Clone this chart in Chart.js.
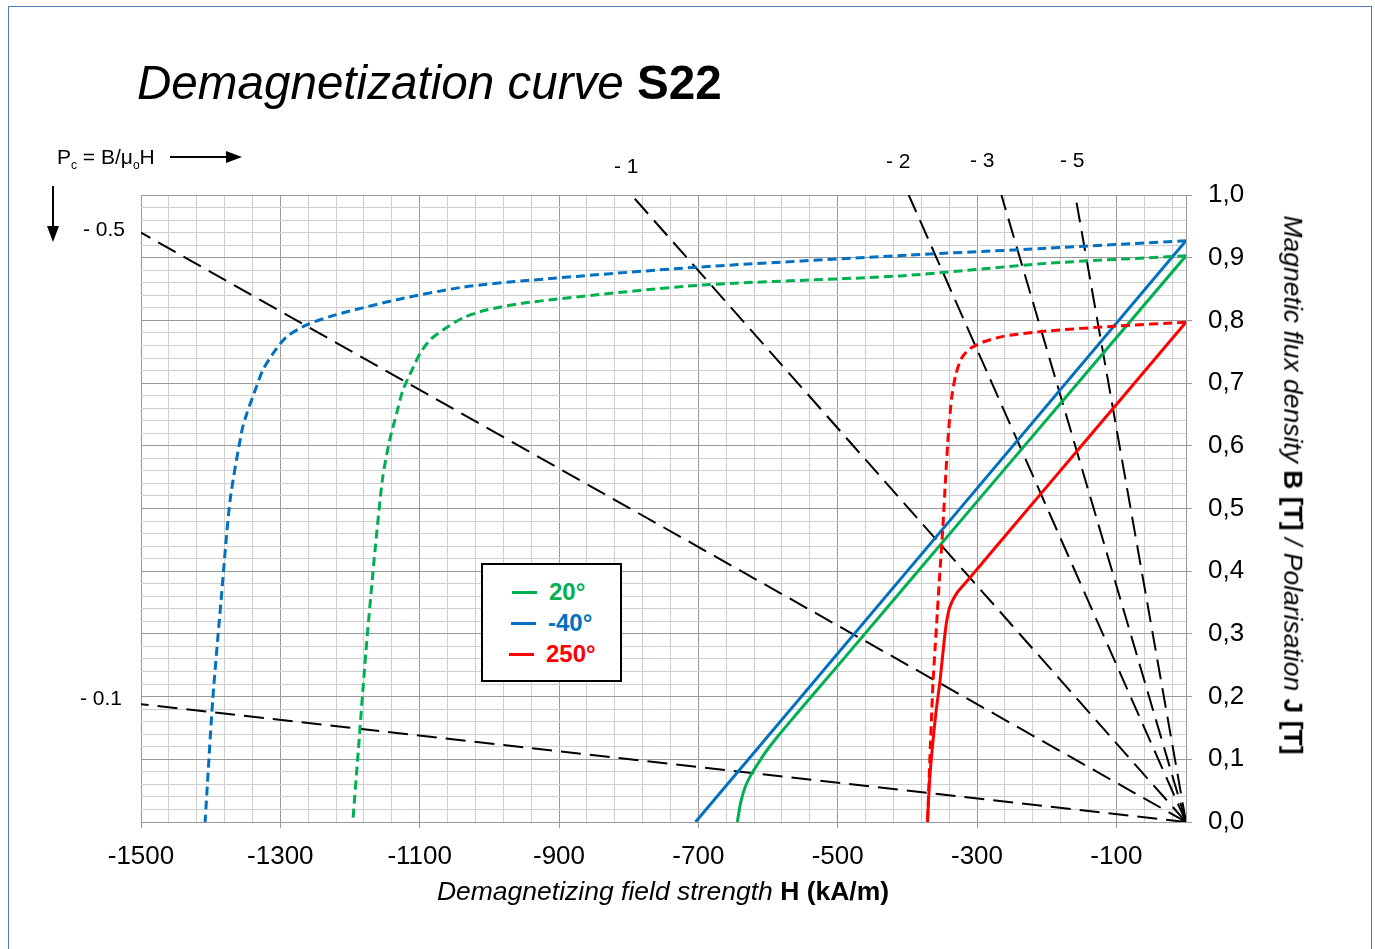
<!DOCTYPE html>
<html>
<head>
<meta charset="utf-8">
<script src="https://cdn.jsdelivr.net/npm/chart.js@4.4.1/dist/chart.umd.min.js"></script>
<style>
  html, body { margin:0; padding:0; background:#fff; }
  body { width:1375px; height:949px; position:relative; overflow:hidden; font-family: Arial, "Liberation Sans", sans-serif; }
  #frame { position:absolute; left:8px; top:6px; width:1364px; height:950px; border:1.5px solid #4a7ebb; box-sizing:border-box; }
  #wrap { position:absolute; left:0; top:0; width:1375px; height:949px; }
  .t { position:absolute; white-space:nowrap; line-height:1; color:#000; }
  .s { font-size:21px; }
  #legend { position:absolute; left:481px; top:563px; width:141px; height:119px; box-sizing:border-box; border:2px solid #000; background:#fff; }
  .li { position:absolute; height:24px; line-height:24px; font-weight:bold; font-size:24px; }
  .li i { display:inline-block; width:25px; height:3px; vertical-align:middle; margin-right:12px; position:relative; top:-1px; }
</style>
</head>
<body>
<div id="frame"></div>
<div id="wrap"><canvas id="c" width="1375" height="949"></canvas></div>

<div class="t" style="left:137px; top:59px; font-size:47.6px;"><span style="font-style:italic;">Demagnetization curve </span><b>S22</b></div>
<div class="t" style="left:57px; top:146px; font-size:21px;">P<sub style="font-size:12px;">c</sub> = B/μ<sub style="font-size:12px;">o</sub>H</div>
<svg style="position:absolute;left:0;top:0;" width="300" height="260">
  <line x1="170" y1="157" x2="228" y2="157" stroke="#000" stroke-width="2"/>
  <polygon points="242,157 226,151 226,163" fill="#000"/>
  <line x1="53" y1="186" x2="53" y2="228" stroke="#000" stroke-width="2"/>
  <polygon points="53,242 47,226 59,226" fill="#000"/>
</svg>
<div class="t s" style="left:83px; top:218px;">- 0.5</div>
<div class="t s" style="left:80px; top:687px;">- 0.1</div>
<div class="t s" style="left:614px; top:155px;">- 1</div>
<div class="t s" style="left:886px; top:150px;">- 2</div>
<div class="t s" style="left:970px; top:149px;">- 3</div>
<div class="t s" style="left:1060px; top:149px;">- 5</div>

<div class="t" id="xt" style="left:663px; top:891px; font-size:26.5px; transform:translate(-50%,-50%);"><span style="font-style:italic;">Demagnetizing field strength </span><b>H (kA/m)</b></div>
<div class="t" id="yt" style="left:1293px; top:485px; font-size:26.5px; transform:translate(-50%,-50%) rotate(90deg);"><span style="font-style:italic;">Magnetic flux density </span><b>B [T]</b><span style="font-style:italic;"> / Polarisation </span><b>J [T]</b></div>

<div id="legend"></div>

<script>
// ---- data (H in kA/m, B/J in T) ----
const seriesNames = ['20°', '-40°', '250°'];
const seriesColors = ['#00B050', '#0070C0', '#FF0000'];

const b20 = [[0,0.903],[-300,0.511],[-500,0.249],[-560,0.171],[-585,0.138],[-595,0.124],[-605,0.109],[-615,0.092],[-625,0.074],[-633,0.055],[-639,0.032],[-644,0]];
const j20 = [[0,0.903],[-200,0.891],[-410,0.871],[-700,0.856],[-942,0.829],[-1003,0.817],[-1038,0.804],[-1066,0.785],[-1085,0.769],[-1099,0.748],[-1111,0.721],[-1124,0.689],[-1133,0.652],[-1143,0.609],[-1153,0.55],[-1164,0.434],[-1177,0.274],[-1188,0.115],[-1196,0]];

const bM40 = [[0,0.927],[-704,0]];
const jM40 = [[0,0.927],[-200,0.915],[-400,0.904],[-700,0.885],[-942,0.864],[-1038,0.853],[-1133,0.833],[-1200,0.815],[-1229,0.806],[-1262,0.793],[-1291,0.774],[-1310,0.748],[-1325,0.721],[-1336,0.689],[-1348,0.652],[-1355,0.625],[-1372,0.514],[-1385,0.354],[-1397,0.195],[-1408,0]];

const b250 = [[0,0.797],[-150,0.600],[-250,0.469],[-313,0.386],[-329,0.365],[-339,0.343],[-344,0.317],[-348,0.28],[-353,0.226],[-359,0.174],[-364,0.12],[-368,0.067],[-371,0]];
const j250 = [[0,0.797],[-100,0.791],[-200,0.783],[-260,0.775],[-290,0.766],[-310,0.755],[-322,0.74],[-330,0.715],[-336,0.68],[-341,0.62],[-345,0.55],[-349,0.47],[-354,0.386],[-357,0.333],[-360,0.28],[-363,0.226],[-365,0.174],[-367,0.12],[-369,0.06],[-371,0]];

// load lines (permeance coefficient), endpoints
const pcM01 = [[0,0],[-1500,0.188]];
const pcM05 = [[0,0],[-1500,0.94]];
const pcM1  = [[0,0],[-796,1.0]];
const pcM2  = [[0,0],[-398,1.0]];
const pcM3  = [[0,0],[-265,1.0]];
const pcM5  = [[0,0],[-159,1.0]];

const xTickLabels = [-1500,-1300,-1100,-900,-700,-500,-300,-100];
const yTickValues = [0,0.1,0.2,0.3,0.4,0.5,0.6,0.7,0.8,0.9,1.0];
const yTickLabels = ['0,0','0,1','0,2','0,3','0,4','0,5','0,6','0,7','0,8','0,9','1,0'];

// ---- build ----
const pts = a => a.map(p => ({x:p[0], y:p[1]}));
const curve = (data, color, dashed) => ({
  data: pts(data), borderColor: color, borderWidth: 3, showLine: true, pointRadius: 0,
  tension: 0.25, borderDash: dashed ? [9,5] : [], fill: false
});
const loadLine = data => ({
  data: pts(data), borderColor: '#000', borderWidth: 2, showLine: true, pointRadius: 0,
  tension: 0, borderDash: [20,9], fill: false
});

const datasets = [
  curve(b250, seriesColors[2], false),
  curve(j250, seriesColors[2], true),
  curve(b20, seriesColors[0], false),
  curve(j20, seriesColors[0], true),
  curve(bM40, seriesColors[1], false),
  curve(jM40, seriesColors[1], true),
  loadLine(pcM01), loadLine(pcM05), loadLine(pcM1), loadLine(pcM2), loadLine(pcM3), loadLine(pcM5)
];

// grid positions (x every 40 from -1500, y every 0.02)
const xGrid = [];
for (let v = -1500; v < 0; v += 40) xGrid.push(v);
xGrid.push(0);
const yGrid = [];
for (let i = 0; i <= 50; i++) yGrid.push(Math.round(i*2)/100);

const isXMajor = v => xTickLabels.includes(v);
const yIdx = v => yTickValues.findIndex(t => Math.abs(t - v) < 1e-6);

new Chart(document.getElementById('c'), {
  type: 'scatter',
  data: { datasets },
  options: {
    responsive: false, animation: false, devicePixelRatio: 1,
    layout: { padding: { left: 141, top: 195, right: 0, bottom: 0 } },
    plugins: { legend: { display: false }, tooltip: { enabled: false } },
    scales: {
      x: {
        type: 'linear', position: 'bottom', min: -1500, max: 0,
        afterBuildTicks: s => { s.ticks = xGrid.map(v => ({ value: v })); },
        afterFit: s => { s.height = 127; },
        ticks: {
          autoSkip: false, maxRotation: 0, padding: 13, color: '#000',
          font: { family: 'Arial, "Liberation Sans", sans-serif', size: 26 },
          callback: v => isXMajor(v) ? String(v) : ''
        },
        grid: {
          color: c => (c.tick && isXMajor(c.tick.value)) ? '#9a9a9a' : '#cfcfcf',
          tickColor: c => (c.tick && isXMajor(c.tick.value)) ? '#9a9a9a' : 'rgba(0,0,0,0)',
          tickLength: 6, lineWidth: 1
        },
        border: { color: '#9a9a9a', width: 1 }
      },
      y: {
        type: 'linear', position: 'right', min: 0, max: 1,
        afterBuildTicks: s => { s.ticks = yGrid.map(v => ({ value: v })); },
        afterFit: s => { s.width = 189; },
        ticks: {
          autoSkip: false, padding: 16, color: '#000',
          font: { family: 'Arial, "Liberation Sans", sans-serif', size: 26 },
          callback: v => { const i = yIdx(v); return i >= 0 ? yTickLabels[i] : ''; }
        },
        grid: {
          color: c => (c.tick && yIdx(c.tick.value) >= 0) ? '#9a9a9a' : '#cfcfcf',
          tickColor: c => (c.tick && yIdx(c.tick.value) >= 0) ? '#9a9a9a' : 'rgba(0,0,0,0)',
          tickLength: 6, lineWidth: 1
        },
        border: { color: '#9a9a9a', width: 1 }
      }
    }
  }
});

// legend
const lg = document.getElementById('legend');
const legendPos = [{l:29, t:15}, {l:28, t:46}, {l:26, t:77}];
seriesNames.forEach((n, i) => {
  const d = document.createElement('div');
  d.className = 'li';
  d.style.left = legendPos[i].l + 'px';
  d.style.top = legendPos[i].t + 'px';
  d.style.color = seriesColors[i];
  d.innerHTML = '<i style="background:' + seriesColors[i] + '"></i>' + n;
  lg.appendChild(d);
});
</script>
</body>
</html>
